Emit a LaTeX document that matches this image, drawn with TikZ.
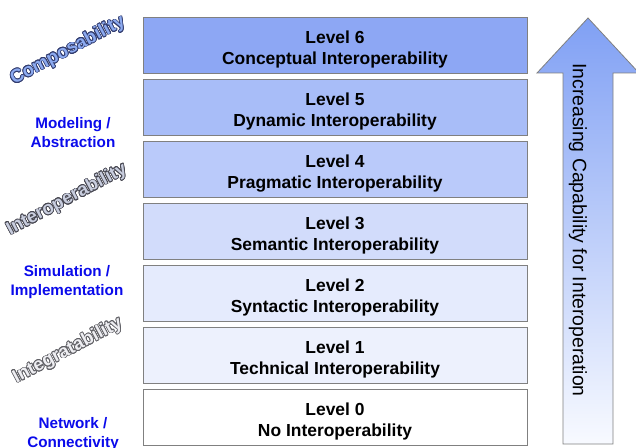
\documentclass[tikz,border=0pt]{standalone}
\usepackage{fontspec}
\setmainfont{Liberation Sans}
\usepackage[copies]{contour}
\usetikzlibrary{shadows}

\definecolor{boxgray}{RGB}{128,128,128}
\definecolor{lvlsix}{RGB}{141,167,244}
\definecolor{lvlfive}{RGB}{168,189,248}
\definecolor{lvlfour}{RGB}{186,202,250}
\definecolor{lvlthree}{RGB}{210,220,251}
\definecolor{lvltwo}{RGB}{229,235,253}
\definecolor{lvlone}{RGB}{237,241,253}
\definecolor{sideblue}{RGB}{10,10,235}
\definecolor{arrowtop}{RGB}{128,160,244}
\definecolor{arrowbot}{RGB}{248,250,255}
\definecolor{compfill}{RGB}{140,170,240}
\definecolor{compline}{RGB}{50,60,110}
\definecolor{interfill}{RGB}{200,205,222}
\definecolor{interline}{RGB}{70,70,80}
\definecolor{integfill}{RGB}{238,238,242}
\definecolor{integline}{RGB}{95,95,100}

\contourlength{0.75pt}

% two-line text of a level box
\newcommand{\lvl}[2]{\raisebox{-5bp}[\height][\depth]{%
  \begin{tabular}{@{}c@{}}#1\\#2\end{tabular}}}

\begin{document}
\begin{tikzpicture}[x=1bp,y=-1bp,
  levelbox/.style={draw=boxgray,line width=0.8bp,minimum width=384bp,minimum height=56bp,
    inner sep=0pt,font=\bfseries\fontsize{17.5}{21}\selectfont,
    drop shadow={shadow xshift=0.6bp,shadow yshift=-1.2bp,fill=black!60,opacity=0.6}},
  side/.style={text=sideblue,align=center,font=\bfseries\fontsize{15.3}{19}\selectfont},
  slant/.style={rotate=28,inner sep=0pt,font=\bfseries\fontsize{18.5}{20}\selectfont}]
\useasboundingbox (0,0) rectangle (636,448);
% level boxes
\node[levelbox,fill=lvlsix] (lsix) at (335,45) {\lvl{Level 6}{Conceptual Interoperability}};
\node[levelbox,fill=lvlfive] (lfive) at (335,107) {\lvl{Level 5}{Dynamic Interoperability}};
\node[levelbox,fill=lvlfour] (lfour) at (335,169) {\lvl{Level 4}{Pragmatic Interoperability}};
\node[levelbox,fill=lvlthree] (lthree) at (335,231) {\lvl{Level 3}{Semantic Interoperability}};
\node[levelbox,fill=lvltwo] (ltwo) at (335,293) {\lvl{Level 2}{Syntactic Interoperability}};
\node[levelbox,fill=lvlone] (lone) at (335,355) {\lvl{Level 1}{Technical Interoperability}};
\node[levelbox,fill=white] (lzero) at (335,417) {\lvl{Level 0}{No Interoperability}};
% big arrow
\shade[top color=arrowtop,bottom color=arrowbot,draw=boxgray,line width=0.8bp]
  (588,18) -- (639,73) -- (613,73) -- (613,444) -- (563,444) -- (563,73) -- (537,73) -- cycle;
\node[rotate=-90,font=\fontsize{19.5}{22}\selectfont] (captext) at (578,230)
  {Increasing Capability for Interoperation};
% left labels
\node[slant,text=compfill] (compo) at (68,51) {\contour{compline}{Composability}};
\node[side] (model) at (73,133) {Modeling /\\Abstraction};
\node[slant,text=interfill] (inter) at (67,200) {\contour{interline}{Interoperability}};
\node[side] (simul) at (67,282) {Simulation /\\Implementation};
\node[slant,text=integfill] (integ) at (68,351) {\contour{integline}{Integratability}};
\node[side] (netw) at (73,434) {Network /\\Connectivity};
\end{tikzpicture}
\end{document}
